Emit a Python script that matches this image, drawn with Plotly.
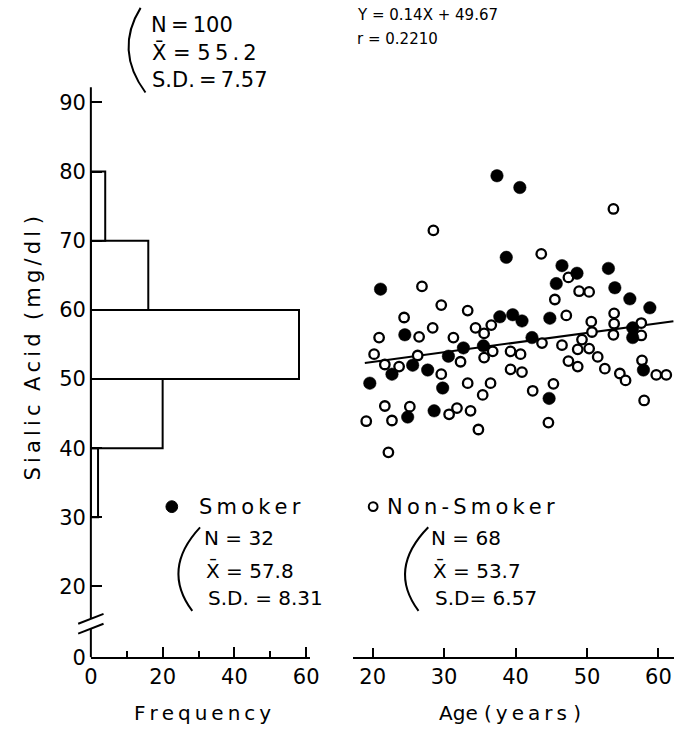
import plotly.graph_objects as go

W, H = 684, 741

# ---------------- data ----------------
hist_bin_centers = [35, 45, 55, 65, 75]
hist_counts = [2, 20, 58, 16, 4]

smoker_age = [37.4, 40.6, 38.7, 21.1, 46.5, 48.6, 45.7, 53.0, 53.9, 56.0,
              58.8, 37.8, 39.6, 40.9, 44.8, 56.4, 56.4, 42.3, 57.9, 44.7,
              24.5, 32.7, 35.5, 30.6, 25.6, 22.7, 27.7, 19.6, 29.8, 24.9, 28.6]
smoker_sa = [79.4, 77.7, 67.6, 63.0, 66.4, 65.3, 63.8, 66.0, 63.2, 61.6,
             60.3, 59.0, 59.3, 58.4, 58.8, 57.4, 56.0, 56.0, 51.3, 47.2,
             56.4, 54.5, 54.8, 53.3, 52.0, 50.7, 51.3, 49.4, 48.7, 44.5, 45.4]

non_age = [28.5, 26.9, 29.6, 53.7, 43.6, 47.4, 48.9, 50.3, 45.5, 36.6,
           47.1, 53.8, 53.8, 50.6, 50.7, 53.7, 57.6, 57.6, 43.7, 46.5,
           49.3, 48.7, 50.3, 51.5, 47.4, 48.7, 52.5, 54.6, 55.4, 57.7,
           59.7, 61.1, 58.0, 39.3, 40.7, 39.3, 40.9, 36.8, 36.5, 42.4,
           45.3, 44.6, 33.3, 24.4, 26.5, 28.4, 20.9, 31.3, 34.4, 35.6,
           35.6, 20.2, 26.3, 32.3, 21.7, 23.7, 29.6, 33.3, 35.4, 21.7,
           25.2, 31.8, 30.7, 33.7, 19.1, 22.7, 34.8, 22.2]
non_sa = [71.5, 63.4, 60.7, 74.6, 68.1, 64.7, 62.7, 62.6, 61.5, 57.8,
          59.2, 59.5, 58.0, 58.3, 56.8, 56.4, 58.1, 56.3, 55.2, 54.9,
          55.7, 54.3, 54.4, 53.2, 52.6, 51.8, 51.5, 50.8, 49.8, 52.7,
          50.6, 50.6, 46.9, 54.0, 53.6, 51.4, 51.0, 54.0, 49.4, 48.3,
          49.3, 43.7, 59.9, 58.9, 56.1, 57.4, 56.0, 56.0, 57.4, 56.6,
          53.1, 53.6, 53.4, 52.5, 52.1, 51.8, 50.7, 49.4, 47.7, 46.1,
          46.0, 45.8, 44.9, 45.4, 43.9, 44.0, 42.7, 39.4]

reg_slope = 0.14
reg_intercept = 49.67
reg_age_ends = [18.9, 62.1]

y_tick_vals = [90, 80, 70, 60, 50, 40, 30, 20]
y_zero_pos = 9.77          # position where the broken axis shows "0"
hist_tick_vals = [0, 20, 40, 60]
hist_minor_vals = [10, 30, 50]
age_tick_vals = [20, 30, 40, 50, 60]

# ---------------- helpers (pixel -> paper) ----------------
def X(px):
    return px / W

def Y(py):
    return 1 - py / H

FONT = "DejaVu Sans"
BLACK = "black"

reg_y = [reg_slope * a + reg_intercept for a in reg_age_ends]

fig = go.Figure()

fig.add_trace(go.Bar(
    y=hist_bin_centers, x=hist_counts, orientation="h", width=10,
    marker=dict(color="white", line=dict(color=BLACK, width=2)),
    xaxis="x", yaxis="y", showlegend=False, hoverinfo="skip",
))

fig.add_trace(go.Scatter(
    x=reg_age_ends, y=reg_y, mode="lines",
    line=dict(color=BLACK, width=2), xaxis="x2", yaxis="y", showlegend=False,
    hoverinfo="skip",
))

fig.add_trace(go.Scatter(
    x=non_age, y=non_sa, mode="markers",
    marker=dict(symbol="circle", size=9.5, color="white",
                line=dict(color=BLACK, width=2.3)),
    xaxis="x2", yaxis="y", showlegend=False, hoverinfo="skip",
))

fig.add_trace(go.Scatter(
    x=smoker_age, y=smoker_sa, mode="markers",
    marker=dict(symbol="circle", size=12.5, color=BLACK,
                line=dict(color=BLACK, width=0.5)),
    xaxis="x2", yaxis="y", showlegend=False, hoverinfo="skip",
))

tickfont = dict(family=FONT, size=21, color=BLACK)

Y_TOP = 88.7
Y_BOT = 668

fig.update_layout(
    width=W, height=H,
    margin=dict(l=0, r=0, t=0, b=0),
    paper_bgcolor="white", plot_bgcolor="white",
    showlegend=False,
    bargap=0,
    hovermode=False,
    xaxis=dict(
        domain=[X(86), X(310.5)], range=[0, 61.0], anchor="y",
        showgrid=False, zeroline=False,
        showline=True, linecolor=BLACK, linewidth=2,
        tickmode="array", tickvals=hist_tick_vals,
        ticks="inside", ticklen=10, tickwidth=2, tickcolor=BLACK,
        minor=dict(tickmode="array", tickvals=hist_minor_vals, ticks="inside",
                   ticklen=6, tickwidth=2, tickcolor=BLACK, showgrid=False),
        tickfont=tickfont,
    ),
    xaxis2=dict(
        domain=[X(355), 1.0], range=[17.27, 62.18], anchor="y",
        showgrid=False, zeroline=False,
        showline=True, linecolor=BLACK, linewidth=2,
        tickmode="array", tickvals=age_tick_vals,
        ticks="inside", ticklen=9, tickwidth=2, tickcolor=BLACK,
        tickfont=tickfont,
    ),
    yaxis=dict(
        domain=[Y(Y_BOT), Y(Y_TOP)], range=[y_zero_pos, 92.2], anchor="x",
        showgrid=False, zeroline=False, showline=False,
        tickmode="array", tickvals=y_tick_vals + [y_zero_pos],
        ticktext=[str(v) for v in y_tick_vals] + ["0"],
        ticks="inside", ticklen=11, tickwidth=2, tickcolor=BLACK,
        tickfont=tickfont, ticklabelstandoff=4,
    ),
)

shapes = []
# broken y-axis line
AX = 86
BR1, BR2 = 629, 639
shapes.append(dict(type="line", xref="paper", yref="paper",
                   x0=X(AX), x1=X(AX), y0=Y(Y_TOP), y1=Y(BR1),
                   line=dict(color=BLACK, width=2)))
shapes.append(dict(type="line", xref="paper", yref="paper",
                   x0=X(AX), x1=X(AX), y0=Y(BR2), y1=Y(Y_BOT),
                   line=dict(color=BLACK, width=2)))
for c in (BR1, BR2):
    shapes.append(dict(type="line", xref="paper", yref="paper",
                       x0=X(AX - 13), y0=Y(c + 5), x1=X(AX + 13), y1=Y(c - 5),
                       line=dict(color=BLACK, width=2)))

# curved brackets
def paren(top, mid_x, bottom):
    (x0, y0), (x1, y1) = top, bottom
    cy = (y0 + y1) / 2
    return dict(type="path", xref="paper", yref="paper",
                path=f"M {X(x0)},{Y(y0)} Q {X(mid_x)},{Y(cy)} {X(x1)},{Y(y1)}",
                line=dict(color=BLACK, width=2))

shapes.append(paren((137, 8), 110, (142, 94)))
shapes.append(paren((198, 536), 158, (190, 621)))
shapes.append(paren((432, 536), 390, (422, 621)))

# legend symbols
LEG_Y = 515
shapes.append(dict(type="circle", xref="paper", yref="paper",
                   x0=X(163), x1=X(175), y0=Y(LEG_Y + 6), y1=Y(LEG_Y - 6),
                   fillcolor=BLACK, line=dict(color=BLACK, width=1)))
shapes.append(dict(type="circle", xref="paper", yref="paper",
                   x0=X(371), x1=X(380), y0=Y(LEG_Y + 4.5), y1=Y(LEG_Y - 4.5),
                   fillcolor="white", line=dict(color=BLACK, width=2)))

fig.update_layout(shapes=shapes)

ann = []
def txt(s, px, py, size=20, xanchor="left", angle=0):
    ann.append(dict(text=s, x=X(px), y=Y(py), xref="paper", yref="paper",
                    xanchor=xanchor, yanchor="middle", showarrow=False,
                    textangle=angle,
                    font=dict(family=FONT, size=size, color=BLACK)))

ts = "\u2009"
nb = "\u00a0"
XBAR = "X\u0304"

txt("N" + ts + "=" + ts + "100", 146, 25, 21)
txt(XBAR + " = 5" + ts + "5" + ts + "." + ts + "2", 147, 53, 21)
txt("S.D." + ts + "=" + ts + "7.57", 147, 81, 21)

txt("Y = 0.14X + 49.67", 357, 15, 15)
txt("r = 0.2210", 357, 40, 15)

txt(ts.join("Smoker"), 195, LEG_Y, 21)
txt(ts.join("Non-Smoker"), 388, LEG_Y, 21)

txt("N = 32", 200, 547, 20)
txt(XBAR + " = 57.8", 202, 580, 20)
txt("S.D. = 8.31", 204, 608, 20)

txt("N = 68", 433, 547, 20)
txt(XBAR + " = 53.7", 435, 580, 20)
txt("S.D= 6.57", 437, 608, 20)

txt(ts.join("Frequency"), 200, 725, 20, xanchor="center")
txt("Age" + nb + "(" + ts + ts.join("years") + nb + ")", 516, 725, 20, xanchor="center")

title_txt = (ts.join("Sialic") + nb + nb + ts.join("Acid") + nb + nb +
             "(" + ts + ts.join("mg/dl") + nb + ")")
txt(title_txt, 27, 354, 21, xanchor="center", angle=-90)

fig.update_layout(annotations=ann)

fig.write_html(
    "out.html",
    config={"displayModeBar": False, "staticPlot": True},
    post_script="document.body.style.margin='0';document.body.style.overflow='hidden';",
)
